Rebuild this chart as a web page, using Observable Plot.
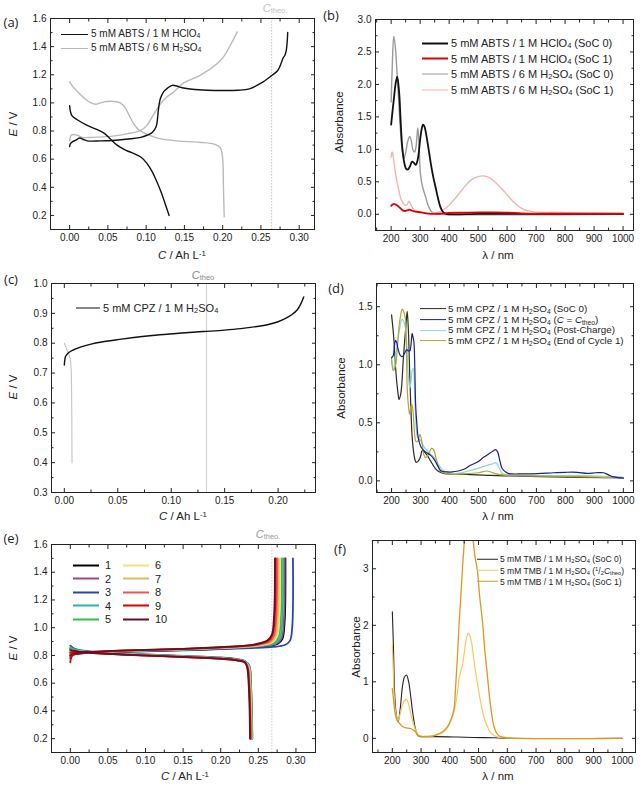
<!DOCTYPE html>
<html><head><meta charset="utf-8">
<script src="https://cdn.jsdelivr.net/npm/d3@7"></script>
<script src="https://cdn.jsdelivr.net/npm/@observablehq/plot@0.6"></script>
<style>
body{margin:0;background:#fff;}
#fig{position:relative;width:640px;height:788px;overflow:hidden;background:#fff;font-family:"Liberation Sans",Arial,sans-serif;color:#222;}
.abs{position:absolute;white-space:nowrap;line-height:1;}
.c{transform:translate(-50%,-50%);}
.v{transform:translate(-50%,-50%) rotate(-90deg);}
sub{font-size:0.68em;vertical-align:-0.22em;line-height:0;}
sup{font-size:0.68em;vertical-align:0.45em;line-height:0;}
.leg{position:absolute;white-space:nowrap;line-height:1;transform:translateY(-50%);display:flex;align-items:center;}
.sw{display:inline-block;height:0;}
.pl{font-family:"Open Sans",sans-serif;font-size:13px;}
</style></head>
<body><div id="fig"></div>
<script>
// ---------------- DATA ----------------
// (a) E vs C, ABTS
const aCharge1C = [0, 0.001, 0.004, 0.008, 0.013, 0.018, 0.023, 0.04, 0.06, 0.08, 0.093, 0.101, 0.108, 0.113, 0.116, 0.118, 0.12, 0.123, 0.128, 0.134, 0.14, 0.147, 0.16, 0.18, 0.2, 0.22, 0.235, 0.25, 0.263, 0.272, 0.277, 0.279, 0.281, 0.283, 0.2845, 0.285];
const aCharge1E = [0.69, 0.71, 0.725, 0.735, 0.75, 0.74, 0.73, 0.73, 0.735, 0.745, 0.755, 0.77, 0.79, 0.83, 0.95, 1.02, 1.05, 1.08, 1.105, 1.125, 1.12, 1.108, 1.097, 1.09, 1.088, 1.09, 1.1, 1.14, 1.19, 1.23, 1.29, 1.32, 1.335, 1.37, 1.45, 1.5];
const aDisch1C = [0, 0.001, 0.003, 0.01, 0.023, 0.036, 0.045, 0.053, 0.062, 0.073, 0.084, 0.093, 0.101, 0.108, 0.114, 0.12, 0.125, 0.13];
const aDisch1E = [0.98, 0.94, 0.91, 0.88, 0.84, 0.81, 0.785, 0.745, 0.7, 0.665, 0.64, 0.615, 0.57, 0.51, 0.44, 0.36, 0.28, 0.2];
const aCharge2C = [0, 0.002, 0.006, 0.01, 0.017, 0.03, 0.053, 0.075, 0.093, 0.101, 0.11, 0.119, 0.127, 0.136, 0.149, 0.171, 0.193, 0.201, 0.21, 0.215, 0.219];
const aCharge2E = [0.73, 0.77, 0.775, 0.77, 0.755, 0.755, 0.762, 0.78, 0.805, 0.84, 0.92, 0.995, 1.042, 1.078, 1.142, 1.197, 1.28, 1.327, 1.41, 1.46, 1.505];
const aDisch2C = [0, 0.005, 0.012, 0.02, 0.028, 0.034, 0.04, 0.048, 0.058, 0.066, 0.072, 0.078, 0.084, 0.09, 0.1, 0.115, 0.14, 0.17, 0.19, 0.197, 0.2, 0.201, 0.202];
const aDisch2E = [1.15, 1.11, 1.07, 1.03, 1.0, 0.99, 1.0, 1.01, 1.01, 1.0, 0.97, 0.91, 0.85, 0.81, 0.78, 0.75, 0.73, 0.72, 0.705, 0.68, 0.6, 0.4, 0.19];
const aLegend = ["5 mM ABTS / 1 M HClO<sub>4</sub>", "5 mM ABTS / 6 M H<sub>2</sub>SO<sub>4</sub>"];

// (b) UV-vis ABTS
const bLam1 = [200, 205, 210, 215, 221, 228, 232, 238, 245, 252, 258, 265, 272, 279, 285, 292, 300, 306, 310, 315, 322, 330, 338, 345, 353, 362, 370, 378, 387, 400, 500, 600, 700, 800, 900, 1000];
const bAbs1 = [1.38, 1.6, 1.8, 2.0, 2.12, 1.85, 1.5, 1.05, 0.8, 0.7, 0.69, 0.74, 0.81, 0.79, 0.76, 0.85, 1.15, 1.33, 1.38, 1.35, 1.2, 0.98, 0.75, 0.58, 0.42, 0.24, 0.11, 0.04, 0.01, 0.0, 0.005, 0.005, 0.005, 0.005, 0.005, 0.005];
const bLam2 = [200, 205, 210, 215, 222, 230, 240, 248, 255, 262, 270, 280, 295, 320, 350, 400, 450, 500, 550, 600, 650, 700, 800, 900, 1000];
const bAbs2 = [0.13, 0.15, 0.16, 0.15, 0.13, 0.1, 0.06, 0.05, 0.06, 0.07, 0.06, 0.045, 0.035, 0.015, 0.005, 0.02, 0.025, 0.03, 0.03, 0.025, 0.015, 0.01, 0.01, 0.01, 0.01];
const bLam3 = [200, 204, 209, 214, 220, 226, 232, 238, 244, 250, 257, 264, 270, 276, 281, 286, 292, 296, 301, 307, 313, 320, 328, 336, 345, 355, 370, 1000];
const bAbs3 = [1.73, 2.3, 2.74, 2.6, 2.2, 1.75, 1.3, 0.98, 0.86, 0.95, 1.12, 1.2, 1.12, 0.98, 0.96, 1.05, 1.33, 1.1, 0.62, 0.45, 0.35, 0.25, 0.13, 0.06, 0.02, 0.01, 0.0, 0.0];
const bLam4 = [200, 203, 207, 212, 218, 225, 232, 240, 248, 255, 261, 267, 275, 285, 300, 320, 340, 360, 380, 400, 420, 440, 460, 480, 500, 520, 540, 560, 580, 600, 620, 640, 660, 690, 720, 760, 850, 1000];
const bAbs4 = [0.88, 0.96, 0.9, 0.72, 0.55, 0.4, 0.26, 0.18, 0.14, 0.15, 0.2, 0.16, 0.09, 0.05, 0.03, 0.015, 0.015, 0.03, 0.07, 0.14, 0.24, 0.35, 0.46, 0.54, 0.58, 0.59, 0.56, 0.49, 0.4, 0.3, 0.2, 0.12, 0.07, 0.04, 0.03, 0.03, 0.02, 0.01];
const bLegend = ["5 mM ABTS / 1 M HClO<sub>4</sub> (SoC 0)", "5 mM ABTS / 1 M HClO<sub>4</sub> (SoC 1)", "5 mM ABTS / 6 M H<sub>2</sub>SO<sub>4</sub> (SoC 0)", "5 mM ABTS / 6 M H<sub>2</sub>SO<sub>4</sub> (SoC 1)"];

// (c) E vs C, CPZ
const cChargeC = [0, 0.0005, 0.001, 0.003, 0.006, 0.01, 0.015, 0.025, 0.035, 0.05, 0.065, 0.08, 0.096, 0.11, 0.13, 0.15, 0.165, 0.18, 0.19, 0.2, 0.207, 0.213, 0.218, 0.221, 0.224];
const cChargeE = [0.727, 0.745, 0.755, 0.765, 0.773, 0.78, 0.787, 0.797, 0.804, 0.812, 0.819, 0.825, 0.83, 0.834, 0.839, 0.844, 0.849, 0.856, 0.862, 0.872, 0.883, 0.896, 0.912, 0.93, 0.955];
const cDischC = [0, 0.002, 0.004, 0.0055, 0.0062, 0.0066, 0.0068, 0.007, 0.0071, 0.0072];
const cDischE = [0.8, 0.782, 0.765, 0.748, 0.725, 0.69, 0.63, 0.55, 0.47, 0.4];
const cLegend = ["5 mM CPZ / 1 M H<sub>2</sub>SO<sub>4</sub>"];

// (d) UV-vis CPZ
const dLam1 = [200, 207, 214, 221, 226, 231, 235, 240, 245, 250, 254, 258, 263, 267, 271, 276, 281, 285, 292, 300, 306, 320, 335, 350, 363, 378, 392, 420, 473, 530, 588, 650, 761, 850, 930, 1000];
const dAbs1 = [1.43, 1.25, 0.97, 0.78, 0.7, 0.74, 0.82, 1.03, 1.2, 1.35, 1.46, 1.3, 0.89, 0.6, 0.38, 0.25, 0.18, 0.16, 0.17, 0.21, 0.26, 0.23, 0.17, 0.11, 0.08, 0.065, 0.06, 0.058, 0.054, 0.048, 0.043, 0.04, 0.034, 0.03, 0.028, 0.028];
const dLam2 = [200, 206, 210, 214, 218, 222, 230, 237, 245, 252, 258, 263, 268, 271, 274, 277, 280, 283, 287, 291, 296, 302, 312, 323, 335, 346, 357, 369, 380, 392, 410, 430, 450, 472, 495, 519, 540, 552, 559, 566, 574, 582, 595, 605, 650, 703, 760, 800, 841, 875, 905, 932, 950, 968, 1000];
const dAbs2 = [1.06, 1.08, 1.17, 1.21, 1.19, 1.14, 1.08, 1.07, 1.1, 1.13, 1.12, 1.12, 1.2, 1.27, 1.24, 1.2, 1.0, 0.66, 0.5, 0.39, 0.33, 0.29, 0.26, 0.24, 0.22, 0.19, 0.14, 0.09, 0.08, 0.077, 0.077, 0.085, 0.1, 0.134, 0.16, 0.205, 0.24, 0.26, 0.27, 0.25, 0.17, 0.105, 0.075, 0.063, 0.06, 0.063, 0.07, 0.074, 0.074, 0.065, 0.07, 0.07, 0.05, 0.034, 0.023];
const dLam3 = [200, 206, 214, 222, 230, 235, 241, 248, 253, 256, 260, 263, 267, 271, 275, 279, 283, 289, 295, 300, 310, 323, 335, 346, 360, 375, 395, 415, 440, 473, 500, 530, 552, 559, 566, 582, 600, 645, 700, 800, 875, 930, 990, 1000];
const dAbs3 = [1.03, 0.95, 1.09, 1.22, 1.34, 1.39, 1.38, 1.31, 1.15, 0.97, 0.85, 0.8, 0.85, 0.95, 0.97, 0.8, 0.55, 0.38, 0.36, 0.35, 0.3, 0.26, 0.23, 0.205, 0.15, 0.097, 0.07, 0.063, 0.07, 0.091, 0.11, 0.134, 0.15, 0.157, 0.14, 0.063, 0.052, 0.048, 0.046, 0.045, 0.045, 0.04, 0.034, 0.03];
const dLam4 = [200, 206, 214, 220, 225, 231, 237, 243, 248, 251, 254, 258, 262, 266, 270, 274, 279, 284, 290, 298, 305, 312, 318, 325, 331, 338, 345, 353, 362, 370, 380, 395, 415, 450, 500, 530, 560, 590, 650, 760, 870, 930, 1000];
const dAbs4 = [1.06, 0.95, 1.0, 1.15, 1.31, 1.42, 1.48, 1.45, 1.39, 1.2, 0.8, 0.65, 0.575, 0.63, 0.66, 0.6, 0.42, 0.34, 0.34, 0.4, 0.33, 0.22, 0.2, 0.22, 0.25, 0.28, 0.27, 0.2, 0.12, 0.08, 0.068, 0.06, 0.057, 0.06, 0.07, 0.085, 0.06, 0.05, 0.045, 0.04, 0.035, 0.03, 0.025];
const dLegend = ["5 mM CPZ / 1 M H<sub>2</sub>SO<sub>4</sub> (SoC 0)", "5 mM CPZ / 1 M H<sub>2</sub>SO<sub>4</sub> (<i>C</i> = <i>C</i><sub>theo</sub>)", "5 mM CPZ / 1 M H<sub>2</sub>SO<sub>4</sub> (Post-Charge)", "5 mM CPZ / 1 M H<sub>2</sub>SO<sub>4</sub> (End of Cycle 1)"];

// (e) E vs C, TMB cycles 1..10
const eChargeC = [
  [0, 0.003, 0.015, 0.05, 0.1, 0.15, 0.2, 0.24, 0.265, 0.276, 0.282, 0.285, 0.286],
  [0, 0.003, 0.015, 0.05, 0.1, 0.15, 0.2, 0.24, 0.264, 0.275, 0.281, 0.284, 0.285],
  [0, 0.003, 0.015, 0.05, 0.1, 0.15, 0.2, 0.24, 0.27, 0.285, 0.292, 0.295, 0.296],
  [0, 0.003, 0.015, 0.05, 0.1, 0.15, 0.2, 0.24, 0.262, 0.273, 0.279, 0.282, 0.283],
  [0, 0.003, 0.015, 0.05, 0.1, 0.15, 0.2, 0.24, 0.26, 0.271, 0.277, 0.28, 0.281],
  [0, 0.003, 0.015, 0.05, 0.1, 0.15, 0.2, 0.24, 0.258, 0.269, 0.275, 0.278, 0.279],
  [0, 0.003, 0.015, 0.05, 0.1, 0.15, 0.2, 0.24, 0.256, 0.267, 0.273, 0.276, 0.277],
  [0, 0.003, 0.015, 0.05, 0.1, 0.15, 0.2, 0.24, 0.254, 0.265, 0.271, 0.274, 0.275],
  [0, 0.003, 0.015, 0.05, 0.1, 0.15, 0.2, 0.24, 0.252, 0.263, 0.269, 0.272, 0.273],
  [0, 0.003, 0.015, 0.05, 0.1, 0.15, 0.2, 0.24, 0.251, 0.262, 0.268, 0.271, 0.272]
];
const eChargeE = [
  [0.78, 0.805, 0.815, 0.825, 0.832, 0.838, 0.848, 0.858, 0.87, 0.885, 0.92, 1.05, 1.5],
  [0.80, 0.81, 0.818, 0.826, 0.834, 0.84, 0.85, 0.86, 0.872, 0.888, 0.925, 1.06, 1.5],
  [0.79, 0.805, 0.815, 0.823, 0.83, 0.836, 0.845, 0.853, 0.862, 0.875, 0.905, 1.0, 1.5],
  [0.81, 0.815, 0.82, 0.827, 0.835, 0.841, 0.851, 0.862, 0.874, 0.89, 0.93, 1.07, 1.5],
  [0.80, 0.812, 0.82, 0.828, 0.836, 0.842, 0.852, 0.864, 0.876, 0.892, 0.935, 1.08, 1.5],
  [0.82, 0.82, 0.823, 0.83, 0.837, 0.844, 0.854, 0.866, 0.878, 0.895, 0.94, 1.08, 1.5],
  [0.81, 0.816, 0.822, 0.83, 0.838, 0.845, 0.856, 0.868, 0.88, 0.897, 0.94, 1.09, 1.5],
  [0.82, 0.82, 0.824, 0.831, 0.839, 0.846, 0.857, 0.87, 0.882, 0.9, 0.945, 1.1, 1.5],
  [0.75, 0.8, 0.818, 0.83, 0.84, 0.847, 0.859, 0.872, 0.885, 0.905, 0.95, 1.1, 1.5],
  [0.80, 0.812, 0.82, 0.831, 0.84, 0.848, 0.86, 0.874, 0.887, 0.907, 0.95, 1.1, 1.5]
];
const eDischC = [
  [0, 0.005, 0.02, 0.05, 0.1, 0.15, 0.2, 0.222, 0.232, 0.237, 0.2395, 0.241],
  [0, 0.005, 0.02, 0.05, 0.1, 0.15, 0.2, 0.222, 0.232, 0.2365, 0.239, 0.2405],
  [0, 0.005, 0.02, 0.05, 0.1, 0.15, 0.2, 0.222, 0.232, 0.238, 0.2405, 0.242],
  [0, 0.005, 0.02, 0.05, 0.1, 0.15, 0.2, 0.222, 0.232, 0.238, 0.2405, 0.242],
  [0, 0.005, 0.02, 0.05, 0.1, 0.15, 0.2, 0.222, 0.232, 0.2375, 0.24, 0.2415],
  [0, 0.005, 0.02, 0.05, 0.1, 0.15, 0.2, 0.222, 0.232, 0.237, 0.2395, 0.241],
  [0, 0.005, 0.02, 0.05, 0.1, 0.15, 0.2, 0.222, 0.232, 0.2365, 0.239, 0.2405],
  [0, 0.005, 0.02, 0.05, 0.1, 0.15, 0.2, 0.222, 0.232, 0.236, 0.2385, 0.24],
  [0, 0.005, 0.02, 0.05, 0.1, 0.15, 0.2, 0.222, 0.232, 0.2355, 0.238, 0.2395],
  [0, 0.005, 0.02, 0.05, 0.1, 0.15, 0.2, 0.222, 0.232, 0.235, 0.2375, 0.239]
];
const eDischE = [
  [0.85, 0.84, 0.826, 0.815, 0.803, 0.792, 0.78, 0.768, 0.755, 0.72, 0.55, 0.2],
  [0.84, 0.835, 0.825, 0.814, 0.802, 0.791, 0.779, 0.767, 0.754, 0.72, 0.55, 0.2],
  [0.87, 0.85, 0.832, 0.82, 0.808, 0.797, 0.785, 0.773, 0.76, 0.725, 0.55, 0.2],
  [0.86, 0.845, 0.83, 0.818, 0.806, 0.795, 0.783, 0.771, 0.758, 0.723, 0.55, 0.2],
  [0.85, 0.84, 0.827, 0.816, 0.804, 0.793, 0.781, 0.769, 0.756, 0.72, 0.55, 0.2],
  [0.84, 0.835, 0.825, 0.814, 0.802, 0.791, 0.779, 0.767, 0.754, 0.72, 0.55, 0.2],
  [0.83, 0.83, 0.823, 0.813, 0.801, 0.79, 0.778, 0.766, 0.753, 0.718, 0.55, 0.2],
  [0.83, 0.83, 0.822, 0.812, 0.8, 0.789, 0.777, 0.765, 0.752, 0.718, 0.55, 0.2],
  [0.82, 0.825, 0.82, 0.811, 0.799, 0.788, 0.776, 0.764, 0.75, 0.715, 0.55, 0.2],
  [0.84, 0.835, 0.823, 0.812, 0.8, 0.789, 0.777, 0.765, 0.751, 0.715, 0.55, 0.2]
];
const eLegend = ["1", "2", "3", "4", "5", "6", "7", "8", "9", "10"];

// (f) UV-vis TMB
const fLam1 = [200, 204, 208, 213, 220, 228, 235, 242, 249, 256, 264, 271, 279, 286, 293, 300, 350, 414, 480, 554, 600, 1000];
const fAbs1 = [2.24, 1.6, 0.8, 0.45, 0.29, 0.55, 0.91, 1.08, 1.12, 1.02, 0.74, 0.45, 0.2, 0.08, 0.035, 0.03, 0.03, 0.025, 0.015, 0.01, 0.0, 0.0];
const fLam2 = [200, 204, 208, 214, 220, 228, 235, 242, 249, 256, 264, 272, 281, 290, 300, 320, 340, 357, 375, 391, 405, 415, 425, 432, 438, 444, 450, 456, 464, 471, 478, 484, 492, 500, 507, 515, 522, 530, 542, 554, 570, 600, 1000];
const fAbs2 = [1.65, 1.1, 0.62, 0.4, 0.32, 0.45, 0.59, 0.67, 0.69, 0.62, 0.44, 0.28, 0.15, 0.07, 0.04, 0.04, 0.045, 0.06, 0.1, 0.18, 0.32, 0.48, 0.75, 1.05, 1.18, 1.3, 1.5, 1.72, 1.86, 1.8, 1.62, 1.38, 1.1, 0.85, 0.65, 0.45, 0.32, 0.22, 0.1, 0.05, 0.02, 0.005, 0.0];
const fLam3 = [200, 204, 208, 214, 220, 228, 235, 245, 255, 265, 272, 280, 287, 295, 322, 345, 360, 375, 391, 403, 414, 420, 426, 432, 438, 444, 450, 456, 464, 472, 480, 488, 496, 504, 513, 521, 530, 540, 554, 566, 577, 600, 1000];
const fAbs3 = [0.88, 0.7, 0.5, 0.35, 0.29, 0.25, 0.21, 0.19, 0.18, 0.17, 0.15, 0.12, 0.06, 0.04, 0.03, 0.05, 0.08, 0.12, 0.2, 0.32, 0.5, 0.9, 1.4, 2.0, 2.5, 3.0, 3.45, 3.8, 3.95, 3.85, 3.55, 3.2, 2.97, 2.5, 2.1, 1.6, 1.15, 0.65, 0.2, 0.07, 0.03, 0.01, 0.0];
const fLegend = ["5 mM TMB / 1 M H<sub>2</sub>SO<sub>4</sub> (SoC 0)", "5 mM TMB / 1 M H<sub>2</sub>SO<sub>4</sub> (<sup>1</sup>/<sub>2</sub><i>C</i><sub>theo</sub>)", "5 mM TMB / 1 M H<sub>2</sub>SO<sub>4</sub> (SoC 1)"];

// theoretical capacities (Ah/L) for (a), (c), (e)
const cTheo = [0.264, 0.133, 0.268];

// tick values
const ticksC30 = [0, 0.05, 0.1, 0.15, 0.2, 0.25, 0.3];
const minorC30 = [0.025, 0.075, 0.125, 0.175, 0.225, 0.275];
const ticksC20 = [0, 0.05, 0.1, 0.15, 0.2];
const minorC20 = [0.025, 0.075, 0.125, 0.175, 0.225];
const ticksE16 = [0.2, 0.4, 0.6, 0.8, 1.0, 1.2, 1.4, 1.6];
const minorE16 = [0.3, 0.5, 0.7, 0.9, 1.1, 1.3, 1.5];
const ticksE10 = [0.3, 0.4, 0.5, 0.6, 0.7, 0.8, 0.9, 1.0];
const minorE10 = [0.35, 0.45, 0.55, 0.65, 0.75, 0.85, 0.95];
const ticksLam = [200, 300, 400, 500, 600, 700, 800, 900, 1000];
const minorLam = [150, 250, 350, 450, 550, 650, 750, 850, 950];
const ticksAbsB = [0, 0.5, 1.0, 1.5, 2.0, 2.5, 3.0];
const minorAbsB = [0.25, 0.75, 1.25, 1.75, 2.25, 2.75];
const ticksAbsD = [0, 0.5, 1.0, 1.5];
const minorAbsD = [0.25, 0.75, 1.25];
const ticksAbsF = [0, 1, 2, 3];
const minorAbsF = [0.5, 1.5, 2.5];

// ---------------- DRAWING ----------------
const fig = document.getElementById("fig");
const zip = (xs, ys) => xs.map((x, i) => ({x, y: ys[i]}));
const FONT = '"Liberation Sans", Arial, sans-serif';

function line(xs, ys, stroke, strokeWidth = 1.2) {
  return Plot.line(zip(xs, ys), {x: "x", y: "y", stroke, strokeWidth, curve: "catmull-rom", clip: true});
}

// inward ticks: positive tickSize drawn outward, then shifted back inside by the same amount
function inTicks(o, xd, yd) {
  const inside = (d, v) => v.filter(t => t > Math.min(...d) && t < Math.max(...d));
  const tk = {stroke: "#222", fill: "none", label: null, tickFormat: () => ""};
  const out = [];
  for (const [vals, s] of [[o.xt, 4], [inside(xd, o.xm), 2.5]]) {
    out.push(Plot.axisX(vals, {...tk, anchor: "bottom", tickSize: s, dy: -s}));
    out.push(Plot.axisX(vals, {...tk, anchor: "top", tickSize: s, dy: s}));
  }
  for (const [vals, s] of [[o.yt, 4], [inside(yd, o.ym), 2.5]]) {
    out.push(Plot.axisY(vals, {...tk, anchor: "left", tickSize: s, dx: s}));
    out.push(Plot.axisY(vals, {...tk, anchor: "right", tickSize: s, dx: -s}));
  }
  return out;
}

function panel(o) {
  const [L, T, W, H] = o.box, [x0, x1, y0, y1] = o.frame;
  const p = Plot.plot({
    width: W, height: H,
    marginLeft: x0 - L, marginRight: L + W - x1, marginTop: y0 - T, marginBottom: T + H - y1,
    x: {type: "linear", domain: o.xd},
    y: {type: "linear", domain: o.yd},
    style: {fontFamily: FONT, fontSize: "10px", color: "#222", background: "transparent", overflow: "visible"},
    marks: [
      ...o.marks,
      Plot.frame({stroke: "#222", strokeWidth: 1}),
      Plot.axisX(o.xt, {anchor: "bottom", tickSize: 0, tickPadding: 4, tickFormat: o.xf, label: null}),
      Plot.axisY(o.yt, {anchor: "left", tickSize: 0, tickPadding: 4, tickFormat: o.yf, label: null}),
      ...inTicks(o, o.xd, o.yd)
    ]
  });
  p.style.position = "absolute";
  p.style.left = L + "px";
  p.style.top = T + "px";
  fig.appendChild(p);
}

function text(html, cx, cy, cls, style = "") {
  const d = document.createElement("div");
  d.className = "abs " + cls;
  d.style.cssText += `left:${cx}px;top:${cy}px;${style}`;
  d.innerHTML = html;
  fig.appendChild(d);
}
function legend(x, y, w, color, lw, html, fs, gap) {
  const d = document.createElement("div");
  d.className = "leg";
  d.style.left = x + "px"; d.style.top = y + "px"; d.style.fontSize = fs + "px";
  d.innerHTML = `<span class="sw" style="width:${w}px;border-top:${lw}px solid ${color};margin-right:${gap}px"></span><span>${html}</span>`;
  fig.appendChild(d);
}

const f2 = d3.format(".2f"), f1 = d3.format(".1f"), f0 = d3.format("d");

// (a)
panel({
  box: [0, 0, 320, 262], frame: [50, 314, 18, 229],
  xd: [-0.025, 0.32], yd: [0.1, 1.6],
  xt: ticksC30, xm: minorC30, yt: ticksE16, ym: minorE16, xf: f2, yf: f1,
  marks: [
    Plot.ruleX([cTheo[0]], {stroke: "#c4c4c4", strokeWidth: 1, strokeDasharray: "1.5,1.5"}),
    line(aCharge2C, aCharge2E, "#b9b9b9", 1.4),
    line(aDisch2C, aDisch2E, "#b9b9b9", 1.4),
    line(aCharge1C, aCharge1E, "#111", 1.4),
    line(aDisch1C, aDisch1E, "#111", 1.4)
  ]
});
// (b)
panel({
  box: [320, 0, 320, 262], frame: [375, 633, 19, 230],
  xd: [146, 1036], yd: [-0.25, 3.0],
  xt: ticksLam, xm: minorLam, yt: ticksAbsB, ym: minorAbsB, xf: f0, yf: f1,
  marks: [
    line(bLam3, bAbs3, "#9a9a9a", 1.4),
    line(bLam4, bAbs4, "#f5b3b3", 1.4),
    line(bLam1, bAbs1, "#111", 1.8),
    line(bLam2, bAbs2, "#e00000", 1.8)
  ]
});
// (c)
panel({
  box: [0, 262, 320, 260], frame: [51, 315, 283, 492],
  xd: [-0.012, 0.235], yd: [0.3, 1.0],
  xt: ticksC20, xm: minorC20, yt: ticksE10, ym: minorE10, xf: f2, yf: f1,
  marks: [
    Plot.ruleX([cTheo[1]], {stroke: "#d4d4d4", strokeWidth: 1.2}),
    line(cDischC, cDischE, "#c4c4c4", 1.1),
    line(cChargeC, cChargeE, "#111", 1.4)
  ]
});
// (d)
panel({
  box: [320, 262, 320, 260], frame: [376, 633, 283, 492],
  xd: [148, 1035], yd: [-0.1, 1.7],
  xt: ticksLam, xm: minorLam, yt: ticksAbsD, ym: minorAbsD, xf: f0, yf: f1,
  marks: [
    line(dLam1, dAbs1, "#2b2b2b", 1.2),
    line(dLam3, dAbs3, "#86d8d8", 1.2),
    line(dLam4, dAbs4, "#b3a62c", 1.2),
    line(dLam2, dAbs2, "#1c1c9c", 1.2)
  ]
});
// (e)
const eColors = ["#000000", "#9e4a80", "#2c44b0", "#2ab3b0", "#2ec24e", "#f3e27a", "#e2b95c", "#f2564a", "#e00000", "#6a0e28"];
panel({
  box: [0, 522, 320, 266], frame: [51, 315, 544, 752],
  xd: [-0.025, 0.326], yd: [0.1, 1.6],
  xt: ticksC30, xm: minorC30, yt: ticksE16, ym: minorE16, xf: f2, yf: f1,
  marks: [
    Plot.ruleX([cTheo[2]], {stroke: "#d6c4c8", strokeWidth: 1, strokeDasharray: "1.5,1.5"}),
    ...eChargeC.flatMap((c, i) => [
      line(c, eChargeE[i], eColors[i], 1.8),
      line(eDischC[i], eDischE[i], eColors[i], 1.8)
    ])
  ]
});
// (f)
panel({
  box: [320, 522, 320, 266], frame: [372, 635, 540, 752],
  xd: [131, 1046], yd: [-0.25, 3.5],
  xt: ticksLam, xm: minorLam, yt: ticksAbsF, ym: minorAbsF, xf: f0, yf: f0,
  marks: [
    line(fLam1, fAbs1, "#222", 1.1),
    line(fLam2, fAbs2, "#f6c760", 1.2),
    line(fLam3, fAbs3, "#d99a22", 1.3)
  ]
});

// ---------- labels ----------
const cLab = '<i>C</i> / Ah L<sup>-1</sup>';
const lLab = 'λ / nm';
const eLab = '<i>E</i> / V';
text("(a)", 11, 22, "c pl"); text("(b)", 331, 15, "c pl");
text("(c)", 11, 279, "c pl"); text("(d)", 336, 288, "c pl");
text("(e)", 11, 538, "c pl"); text("(f)", 340, 549, "c pl");
text(eLab, 14, 124, "v", "font-size:11.5px");
text(eLab, 14, 387, "v", "font-size:11.5px");
text(eLab, 14, 648, "v", "font-size:11.5px");
text("Absorbance", 340, 122, "v", "font-size:11.5px");
text("Absorbance", 342, 388, "v", "font-size:11.5px");
text("Absorbance", 357, 647, "v", "font-size:11.5px");
text(cLab, 182, 256, "c", "font-size:11.5px");
text(cLab, 183, 517, "c", "font-size:11.5px");
text(cLab, 185, 777, "c", "font-size:11.5px");
text(lLab, 498, 256, "c", "font-size:11.5px");
text(lLab, 498, 517, "c", "font-size:11.5px");
text(lLab, 498, 777, "c", "font-size:11.5px");
text('<i>C</i><sub>theo.</sub>', 275, 8, "c", "font-size:11px;color:#c4c4c4");
text('<i>C</i><sub>theo</sub>', 203, 275, "c", "font-size:11px;color:#8a8a8a");
text('<i>C</i><sub>theo.</sub>', 268, 534, "c", "font-size:11px;color:#9a9a9a");

// ---------- legends ----------
legend(61, 34, 27, "#111", 1.5, aLegend[0], 10, 3);
legend(61, 48, 27, "#b9b9b9", 1.5, aLegend[1], 10, 3);
const bCol = ["#111", "#e00000", "#9a9a9a", "#f5b3b3"], bLw = [2, 2, 1.5, 1.5], bY = [43, 58.7, 74, 90];
bLegend.forEach((t, i) => legend(422, bY[i], 26, bCol[i], bLw[i], t, 11, 3));
legend(76, 308, 24, "#111", 1.3, cLegend[0], 11, 3);
const dCol = ["#2b2b2b", "#1c1c9c", "#86d8d8", "#b3a62c"], dY = [309, 319.7, 330.2, 340.7];
dLegend.forEach((t, i) => legend(420, dY[i], 26, dCol[i], 1.3, t, 9.8, 2));
const eY = [565, 578.5, 592, 605.5, 619];
eLegend.forEach((t, i) => legend(i < 5 ? 73 : 123, eY[i % 5], 26, eColors[i], 2, t, 11, 6));
const fCol = ["#222", "#f6c760", "#d99a22"], fY = [559, 570.5, 581.5];
fLegend.forEach((t, i) => legend(477, fY[i], 21, fCol[i], 1.3, t, 8.5, 2));
</script>
</body></html>
